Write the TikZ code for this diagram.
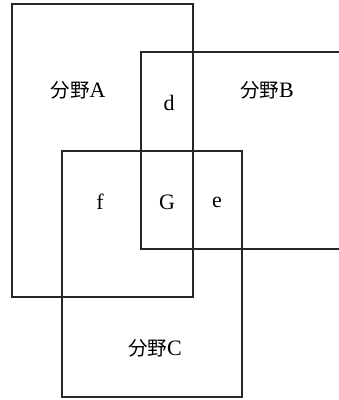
\documentclass[tikz,border=0pt]{standalone}
\usepackage{fontspec}
\setmainfont{Liberation Serif}
\newfontfamily\cjk{Noto Sans CJK JP}
\begin{document}
\begin{tikzpicture}[x=1pt,y=-1pt,
  box/.style={draw=black!85,line width=1.1pt},
  lbl/.style={font=\fontsize{22}{24}\selectfont,inner sep=0pt}]
\useasboundingbox (0,0) rectangle (339,400);
% Area A
\draw[box] (12,4) rectangle (193,297);
% Area B (open on the right)
\coordinate (btr) at (338.5,52);
\coordinate (bbr) at (338.5,249);
\draw[box] (btr) -- (141,52) -- (141,249) -- (bbr);
% Area C
\draw[box] (62,151) rectangle (242,397);
% labels
\node[lbl] (la) at (78,90) {{\cjk\fontsize{19.5}{22}\selectfont 分野}A};
\node[lbl] (lb) at (267,90) {{\cjk\fontsize{19.5}{22}\selectfont 分野}B};
\node[lbl] (lc) at (155,348) {{\cjk\fontsize{19.5}{22}\selectfont 分野}C};
\node[lbl] (ld) at (169,103) {d};
\node[lbl] (lf) at (100,202) {f};
\node[lbl] (lg) at (167,202) {G};
\node[lbl] (le) at (217,202) {e};
\end{tikzpicture}
\end{document}
